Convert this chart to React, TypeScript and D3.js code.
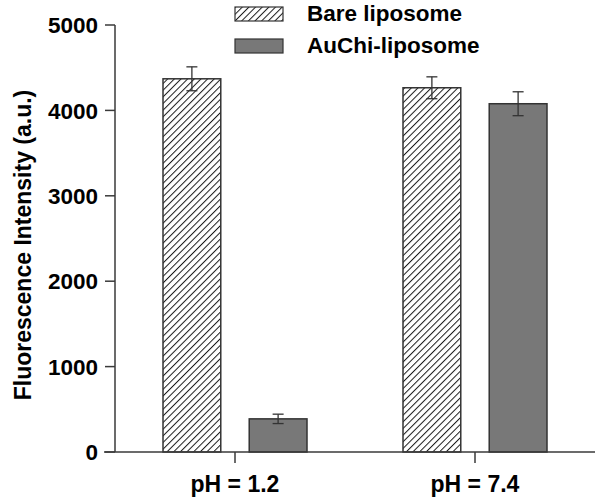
import React from "react";
import * as d3 from "d3";

const categories = ["pH = 1.2", "pH = 7.4"];
const seriesNames = ["Bare liposome", "AuChi-liposome"];
const bareValues = [4370, 4265];
const bareErrors = [140, 128];
const auchiValues = [388, 4078];
const auchiErrors = [55, 140];
const yTicks = [0, 1000, 2000, 3000, 4000, 5000];

const W = 602;
const H = 503;
const FONT = "'Liberation Sans', Arial, Helvetica, sans-serif";

export default function App() {
  const x0 = d3.scaleBand<string>().domain(categories).range([115, 595]).padding(0);
  const y = d3.scaleLinear().domain([0, 5000]).range([452, 25]);
  const x1 = d3
    .scaleBand<string>()
    .domain(seriesNames)
    .range([-72, 72])
    .paddingInner(0.33)
    .paddingOuter(0);
  const series = [
    { name: seriesNames[0], values: bareValues, errors: bareErrors, fill: "url(#hatch)" },
    { name: seriesNames[1], values: auchiValues, errors: auchiErrors, fill: "#787878" },
  ];
  const axisColor = "#3a3a3a";
  return (
    <svg width={W} height={H} style={{ position: "absolute", left: 0, top: 0, background: "#fff" }}>
      <defs>
        <pattern id="hatch" patternUnits="userSpaceOnUse" width={4.7} height={4.7} patternTransform="rotate(45)">
          <rect width={4.7} height={4.7} fill="#fff" />
          <line x1={0} y1={0} x2={0} y2={4.7} stroke="#1a1a1a" strokeWidth={2.0} />
        </pattern>
      </defs>
      {/* bars */}
      {categories.map((c, ci) => {
        const cx = x0(c)! + x0.bandwidth() / 2;
        return series.map((s) => {
          const bx = cx + x1(s.name)!;
          const v = s.values[ci];
          const e = s.errors[ci];
          const bw = x1.bandwidth();
          const mx = bx + bw / 2;
          return (
            <g key={c + s.name}>
              <rect x={bx} y={y(v)} width={bw} height={y(0) - y(v)} fill={s.fill} stroke="#333" strokeWidth={1.5} />
              <line x1={mx} x2={mx} y1={y(v + e)} y2={y(v - e)} stroke="#333" strokeWidth={1.3} />
              <line x1={mx - 5.5} x2={mx + 5.5} y1={y(v + e)} y2={y(v + e)} stroke="#333" strokeWidth={1.3} />
              <line x1={mx - 5.5} x2={mx + 5.5} y1={y(v - e)} y2={y(v - e)} stroke="#333" strokeWidth={1.3} />
            </g>
          );
        });
      })}
      {/* y axis */}
      <line x1={115} x2={115} y1={y(5000)} y2={y(0)} stroke={axisColor} strokeWidth={1.5} />
      {yTicks.map((t) => (
        <g key={t}>
          <line x1={105} x2={115} y1={y(t)} y2={y(t)} stroke={axisColor} strokeWidth={1.5} />
          <text x={98} y={y(t)} dy="0.36em" textAnchor="end" fontFamily={FONT} fontWeight="bold" fontSize={22.5} fill="#000">
            {t}
          </text>
        </g>
      ))}
      {/* x axis */}
      <line x1={104} x2={595} y1={y(0)} y2={y(0)} stroke={axisColor} strokeWidth={1.5} />
      {categories.map((c) => {
        const cx = x0(c)! + x0.bandwidth() / 2;
        return (
          <g key={c}>
            <line x1={cx} x2={cx} y1={y(0)} y2={463} stroke={axisColor} strokeWidth={1.5} />
            <text x={cx} y={492} textAnchor="middle" fontFamily={FONT} fontWeight="bold" fontSize={23} fill="#000">
              {c}
            </text>
          </g>
        );
      })}
      {/* y title */}
      <text
        transform="translate(31,245) rotate(-90)"
        textAnchor="middle"
        fontFamily={FONT}
        fontWeight="bold"
        fontSize={23}
        fill="#000"
      >
        Fluorescence Intensity (a.u.)
      </text>
      {/* legend */}
      {series.map((s, i) => (
        <g key={s.name} transform={`translate(235,${7 + i * 32})`}>
          <rect x={0} y={0} width={48} height={14} fill={s.fill} stroke="#333" strokeWidth={1.2} />
          <text x={72} y={14} fontFamily={FONT} fontWeight="bold" fontSize={22.5} fill="#000">
            {s.name}
          </text>
        </g>
      ))}
    </svg>
  );
}
